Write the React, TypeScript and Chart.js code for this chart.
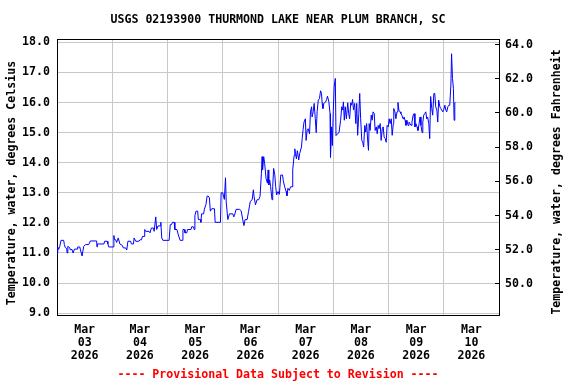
import React, { useEffect, useRef } from "react";
import { Chart, registerables } from "chart.js";

Chart.register(...registerables);

const TITLE = "USGS 02193900 THURMOND LAKE NEAR PLUM BRANCH, SC";
const Y_LEFT_TITLE = "Temperature, water, degrees Celsius";
const Y_RIGHT_TITLE = "Temperature, water, degrees Fahrenheit";
const FOOTER = "---- Provisional Data Subject to Revision ----";

// hours since 2026-03-03 00:00
const hours = [
  0.0, 0.3, 0.7, 1.2, 1.75, 2.9, 3.2, 3.6, 4.2, 4.4,
  4.7, 5.5, 5.8, 6.5, 7.0, 7.6, 8.7, 9.0, 9.9, 10.2,
  10.9, 11.6, 12.4, 13.8, 14.5, 17.2, 17.4, 17.5, 20.4, 20.7,
  21.8, 22.1, 22.5, 24.4, 24.7, 25.0, 25.5, 25.9, 26.6, 27.3,
  28.4, 28.8, 29.8, 30.3, 30.8, 32.0, 32.3, 33.2, 33.5, 34.2,
  35.6, 36.1, 36.7, 37.1, 37.8, 38.1, 38.5, 40.0, 40.4, 41.0,
  41.9, 42.2, 42.9, 43.3, 43.9, 44.8, 45.1, 45.5, 46.0, 48.7,
  49.2, 49.7, 50.2, 50.9, 51.2, 52.1, 52.7, 53.5, 54.5, 54.7,
  55.3, 55.6, 56.4, 56.7, 58.2, 58.5, 59.3, 59.6, 59.9, 60.4,
  61.1, 61.4, 62.3, 62.5, 62.8, 63.7, 64.0, 64.7, 65.2, 65.7,
  66.2, 66.6, 67.2, 68.4, 68.7, 71.0, 71.3, 72.0, 72.7, 73.2,
  73.5, 74.2, 74.9, 76.4, 76.8, 77.1, 77.8, 79.3, 80.0, 80.7,
  81.2, 81.7, 82.6, 83.2, 84.0, 84.8, 85.3, 85.6, 86.2, 86.9,
  87.6, 88.2, 88.8, 89.1, 89.3, 89.8, 90.2, 90.8, 91.4, 91.7,
  92.0, 92.4, 92.8, 93.4, 93.7, 94.1, 94.6, 95.0, 95.4, 96.0,
  96.6, 97.2, 98.0, 98.3, 98.9, 99.5, 99.9, 100.3, 100.9, 101.5,
  102.1, 102.4, 103.0, 103.3, 103.6, 104.0, 104.4, 105.0, 105.4, 106.2,
  106.5, 106.9, 107.3, 107.9, 108.2, 108.7, 109.1, 109.7, 110.1, 110.6,
  110.8, 111.3, 111.7, 112.2, 112.6, 113.0, 113.5, 114.0, 114.5, 114.9,
  115.2, 115.5, 115.9, 116.7, 117.1, 117.5, 118.1, 118.6, 118.8, 119.3,
  119.6, 120.0, 120.4, 120.9, 121.2, 121.8, 122.5, 123.2, 123.7, 124.1,
  124.4, 124.8, 125.2, 125.7, 126.3, 126.7, 127.1, 127.6, 128.0, 128.4,
  128.8, 129.3, 129.8, 130.2, 130.6, 131.1, 131.5, 131.9, 132.4, 132.8,
  133.2, 133.7, 134.1, 134.5, 135.0, 135.3, 135.6, 136.0, 136.5, 136.9,
  137.3, 137.8, 138.2, 138.7, 139.1, 139.5, 139.9, 140.4, 140.8, 141.3,
  141.7, 142.1, 142.6, 143.0, 143.4, 143.9, 144.3, 144.7, 145.2, 145.6,
  146.1, 146.3, 146.8, 147.2, 147.7, 148.1, 148.5, 149.0, 149.4, 149.8,
  150.3, 150.7, 151.2, 151.6, 152.0, 152.5, 152.9, 153.3, 153.8, 154.2,
  154.7, 155.1, 155.5, 155.9, 156.4, 156.8, 157.3, 157.7, 158.1, 158.6,
  158.9, 159.3, 159.7, 160.2, 160.6, 161.0, 161.5, 161.9, 162.3, 162.8,
  163.2, 163.7, 164.1, 164.5, 165.0, 165.4, 165.8, 166.3, 166.7, 167.1,
  167.6, 168.0, 168.5, 168.9, 169.3, 169.8, 170.2, 170.6, 171.1, 171.4,
  171.8, 172.2, 172.5, 172.8, 173.1,
];

// water temperature, degrees Celsius
const tempC = [
  11.0, 11.2, 11.12, 11.22, 11.42, 11.42, 11.28, 11.18, 11.15, 11.0,
  11.22, 11.18, 11.1, 11.12, 11.0, 11.13, 11.13, 11.2, 11.2, 11.1,
  10.9, 11.22, 11.28, 11.28, 11.4, 11.4, 11.2, 11.3, 11.3, 11.39,
  11.39, 11.3, 11.2, 11.2, 11.58, 11.44, 11.44, 11.35, 11.5, 11.3,
  11.25, 11.17, 11.17, 11.1, 11.39, 11.39, 11.3, 11.3, 11.5, 11.39,
  11.39, 11.44, 11.44, 11.55, 11.55, 11.78, 11.72, 11.72, 11.67, 11.83,
  11.83, 11.72, 12.2, 11.78, 11.9, 11.9, 12.02, 11.5, 11.42, 11.42,
  11.94, 11.94, 12.02, 12.02, 11.78, 11.78, 11.6, 11.42, 11.42, 11.78,
  11.78, 11.67, 11.67, 11.78, 11.78, 11.87, 11.87, 11.78, 12.24, 12.39,
  12.39, 12.11, 12.11, 12.02, 12.3, 12.3, 12.45, 12.61, 12.89, 12.89,
  12.83, 12.39, 12.47, 12.47, 12.02, 12.02, 13.0, 13.0, 12.78, 13.5,
  12.7, 12.11, 12.3, 12.3, 12.2, 12.25, 12.45, 12.45, 12.4, 12.1,
  11.91, 12.11, 12.11, 12.38, 12.72, 12.77, 13.1, 12.88, 12.6, 12.77,
  12.77, 12.88, 13.65, 14.2, 13.76, 14.2, 13.98, 13.48, 13.32, 13.76,
  13.26, 13.43, 13.2, 12.77, 13.2, 13.81, 13.6, 13.2, 12.93, 13.04,
  12.95, 13.59, 13.59, 13.4, 13.2, 13.05, 12.9, 13.15, 13.08, 13.2,
  13.2, 13.76, 14.24, 14.46, 14.3, 14.13, 14.4, 14.09, 14.3, 14.52,
  14.8, 15.1, 15.35, 15.46, 14.74, 15.1, 15.13, 14.96, 15.69, 15.86,
  15.52, 15.7, 15.97, 15.46, 15.0, 15.7, 16.08, 16.13, 16.39, 16.3,
  15.97, 15.8, 15.97, 16.02, 16.1, 16.21, 16.02, 15.63, 14.18, 15.19,
  14.57, 15.7, 16.52, 16.8, 14.9, 14.96, 15.0, 15.41, 15.86, 15.75,
  16.02, 15.41, 15.86, 15.46, 15.99, 15.63, 15.46, 15.99, 15.91, 16.1,
  15.75, 15.97, 15.3, 15.97, 14.91, 15.63, 16.3, 15.46, 14.74, 14.68,
  14.52, 15.24, 15.02, 15.3, 14.68, 14.41, 15.3, 15.07, 15.58, 15.41,
  15.69, 15.63, 15.07, 15.19, 14.96, 15.24, 15.13, 15.3, 14.74, 15.13,
  15.19, 14.85, 14.8, 14.68, 15.24, 15.19, 15.46, 15.3, 15.46, 14.91,
  15.3, 15.8, 15.69, 15.46, 15.69, 16.0, 15.75, 15.69, 15.63, 15.58,
  15.46, 15.52, 15.41, 15.24, 15.41, 15.24, 15.35, 15.3, 15.24, 15.35,
  15.58, 15.63, 15.19, 15.3, 15.19, 15.07, 15.3, 15.52, 15.24, 15.0,
  15.35, 15.58, 15.63, 15.69, 15.46, 15.52, 15.3, 14.8, 16.2, 15.8,
  15.58, 16.3, 16.3, 15.86, 15.75, 15.35, 16.08, 15.86, 15.8, 15.75,
  15.69, 15.77, 15.91, 15.75, 15.69, 15.86, 15.91, 15.91, 16.58, 17.62,
  16.8, 16.47, 15.41, 15.99, 16.0,
];

const celsiusTicks = [9, 10, 11, 12, 13, 14, 15, 16, 17, 18];
const fahrenheitTicks = [50, 52, 54, 56, 58, 60, 62, 64];
const dayTickHours = [12, 36, 60, 84, 108, 132, 156, 180];
const dayMonth = "Mar";
const dayNumbers = ["03", "04", "05", "06", "07", "08", "09", "10"];
const dayYear = "2026";

const FONT_FAMILY = "'DejaVu Sans Mono', 'Liberation Mono', monospace";
const GRID = "#c8c8c8";

// Both vertical axis titles read bottom-to-top, sitting slightly below the plot centre.
const axisTitlesPlugin = {
  id: "axisTitles",
  afterDraw(chart: any) {
    const ctx = chart.ctx;
    const drawTitle = (text: string, x: number, y: number) => {
      ctx.save();
      ctx.font = `bold 11.6px ${FONT_FAMILY}`;
      ctx.fillStyle = "#000";
      ctx.textAlign = "center";
      ctx.textBaseline = "middle";
      ctx.translate(x, y);
      ctx.rotate(-Math.PI / 2);
      ctx.fillText(text, 0, 0);
      ctx.restore();
    };
    const l = chart.scales.y;
    const r = chart.scales.y2;
    drawTitle(Y_LEFT_TITLE, l.left + 12, (l.top + l.bottom) / 2 + 6);
    drawTitle(Y_RIGHT_TITLE, r.right - 19, (r.top + r.bottom) / 2 + 5);
  },
};

export default function App() {
  const ref = useRef<HTMLCanvasElement>(null);

  useEffect(() => {
    const canvas = ref.current!;
    const font = { family: FONT_FAMILY, size: 11.6, weight: "bold" as const, lineHeight: 1.2 };
    const chart = new Chart(canvas, {
      type: "line",
      data: {
        datasets: [
          {
            data: hours.map((h, i) => ({ x: h, y: tempC[i] })),
            borderColor: "#0000ff",
            borderWidth: 1,
            pointRadius: 0,
            tension: 0,
            xAxisID: "x",
            yAxisID: "y",
          },
        ],
      },
      options: {
        animation: false,
        responsive: false,
        devicePixelRatio: 1,
        layout: { padding: 0 },
        plugins: {
          legend: { display: false },
          tooltip: { enabled: false },
          title: { display: false },
        },
        scales: {
          x: {
            type: "linear",
            position: "bottom",
            min: 0,
            max: 192,
            afterBuildTicks: (s: any) => {
              s.ticks = dayTickHours.map((v) => ({ value: v }));
            },
            afterFit: (s: any) => {
              s.height = 69;
            },
            grid: { offset: true, color: GRID, drawTicks: false, lineWidth: 1 },
            border: { display: true, color: "#000", width: 1 },
            ticks: {
              autoSkip: false,
              maxRotation: 0,
              minRotation: 0,
              padding: 8,
              color: "#000",
              font: { ...font, lineHeight: "13px" },
              callback: (_v: any, i: number) => [dayMonth, dayNumbers[i], dayYear],
            },
            title: {
              display: true,
              text: FOOTER,
              color: "#ff0000",
              font,
              padding: { top: 0, bottom: 2 },
            },
          },
          xTop: {
            type: "linear",
            position: "top",
            display: true,
            min: 0,
            max: 192,
            afterFit: (s: any) => {
              s.height = 39;
            },
            grid: { drawOnChartArea: false, drawTicks: false },
            border: { display: true, color: "#000", width: 1 },
            ticks: { display: false },
            title: {
              display: true,
              text: TITLE,
              color: "#000",
              font,
              padding: { top: 13, bottom: 0 },
            },
          },
          y: {
            type: "linear",
            position: "left",
            min: 8.94,
            max: 18.11,
            afterBuildTicks: (s: any) => {
              s.ticks = celsiusTicks.map((v) => ({ value: v }));
            },
            afterFit: (s: any) => {
              s.width = 57;
            },
            grid: { color: GRID, drawTicks: false, lineWidth: 1 },
            border: { display: true, color: "#000", width: 1 },
            ticks: {
              padding: 7,
              color: "#000",
              font,
              callback: (v: any) => Number(v).toFixed(1),
            },
            title: { display: false },
          },
          y2: {
            type: "linear",
            position: "right",
            display: true,
            min: 48.18,
            max: 64.33,
            afterBuildTicks: (s: any) => {
              s.ticks = fahrenheitTicks.map((v) => ({ value: v }));
            },
            afterFit: (s: any) => {
              s.width = 77;
            },
            grid: { drawOnChartArea: false, drawTicks: true, tickLength: -4, color: "#000" },
            border: { display: true, color: "#000", width: 1 },
            ticks: {
              padding: 10,
              color: "#000",
              font,
              callback: (v: any) => Number(v).toFixed(1),
            },
          },
        },
      } as any,
      plugins: [axisTitlesPlugin],
    });
    return () => chart.destroy();
  }, []);

  return (
    <div style={{ position: "absolute", left: 0, top: 0, width: 576, height: 384, background: "#fff" }}>
      <canvas ref={ref} width={576} height={384} style={{ display: "block" }} />
    </div>
  );
}
